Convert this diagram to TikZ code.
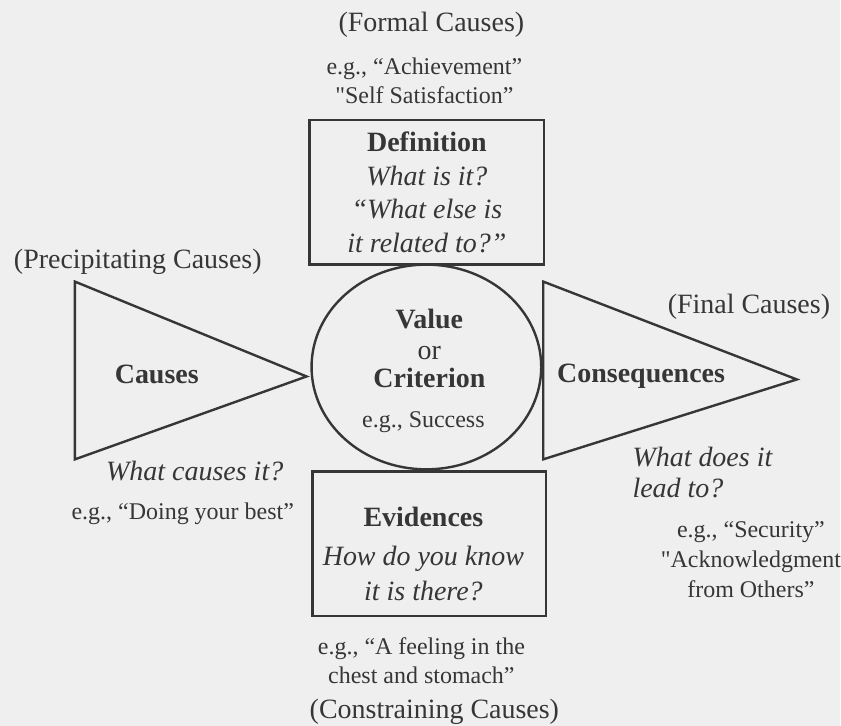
\documentclass[tikz,border=0pt]{standalone}
\usepackage{fontspec}
\setmainfont{Liberation Serif}
\newfontfamily\rawfont{Liberation Serif}
\newcommand\straightq{{\rawfont"}}
\usetikzlibrary{shapes.geometric}
\definecolor{ink}{HTML}{363636}
\definecolor{paper}{HTML}{EFEFEF}

\begin{document}
\begin{tikzpicture}[x=0.5pt, y=-0.5pt,
			every node/.style = {text=ink, align=center, inner sep=0pt},
			big/.style = {font=\fontsize{14}{16.8}\selectfont},
			small/.style = {font=\fontsize{12}{14.5}\selectfont},
			frame/.style = {draw=ink, line width=1.2pt}]
			\fill[paper] (0,0) rectangle (841,727);
			% formal causes (top)
			\node[big] (formal) at (432,25) {(Formal Causes)};
			\node[small] (formalex) at (425,81) {e.g., “Achievement”\\ \straightq Self Satisfaction”};
			\node[frame, big, minimum width=117.5pt, minimum height=72.5pt] (defn) at (427.5,192.5)
				{\textbf{Definition}\\ \textit{What is it?}\\ \textit{“What else is}\\ \textit{it related to?”}};
			% value in the middle
			\node[frame, ellipse, minimum width=115pt, minimum height=102.5pt] (value) at (427,367.5) {};
			\node[big] (valuetxt) at (430,349) {\textbf{Value}\\[-1.3pt] or\\[-2.8pt] \textbf{Criterion}};
			\node[small] (valueex) at (424,423) {e.g., Success};
			% precipitating causes (left)
			\draw[frame] (75,282) -- (307,377) -- (75,460) -- cycle;
			\node[big] (precip) at (138,262) {(Precipitating Causes)};
			\node[big] (causes) at (157,375) {\textbf{Causes}};
			\node[big] (causesq) at (195,472) {\textit{What causes it?}};
			\node[small] (causesex) at (183,515) {e.g., “Doing your best”};
			% final causes (right)
			\draw[frame] (544,282) -- (798,380) -- (544,460) -- cycle;
			\node[big] (final) at (750,307) {(Final Causes)};
			\node[big] (conseq) at (642,377) {\textbf{Consequences}};
			\node[big, align=left, anchor=west, font=\fontsize{14}{15.5}\selectfont] (conseqq) at (633,473)
				{\textit{What does it}\\ \textit{lead to?}};
			\node[small, font=\fontsize{12}{15}\selectfont] (conseqex) at (752,560)
				{e.g., “Security”\\ \straightq Acknowledgment\\ from Others”};
			% constraining causes (bottom)
			\node[frame, minimum width=117pt, minimum height=72.5pt] (evid) at (430,544.5) {};
			\node[big, font=\fontsize{14}{17.5}\selectfont] (evidtxt) at (424,555)
				{\textbf{Evidences}\\[2pt] \textit{How do you know}\\ \textit{it is there?}};
			\node[small] (evidex) at (422,662) {e.g., “A feeling in the\\ chest and stomach”};
			\node[big] (constr) at (435,713) {(Constraining Causes)};
		\end{tikzpicture}
\end{document}
